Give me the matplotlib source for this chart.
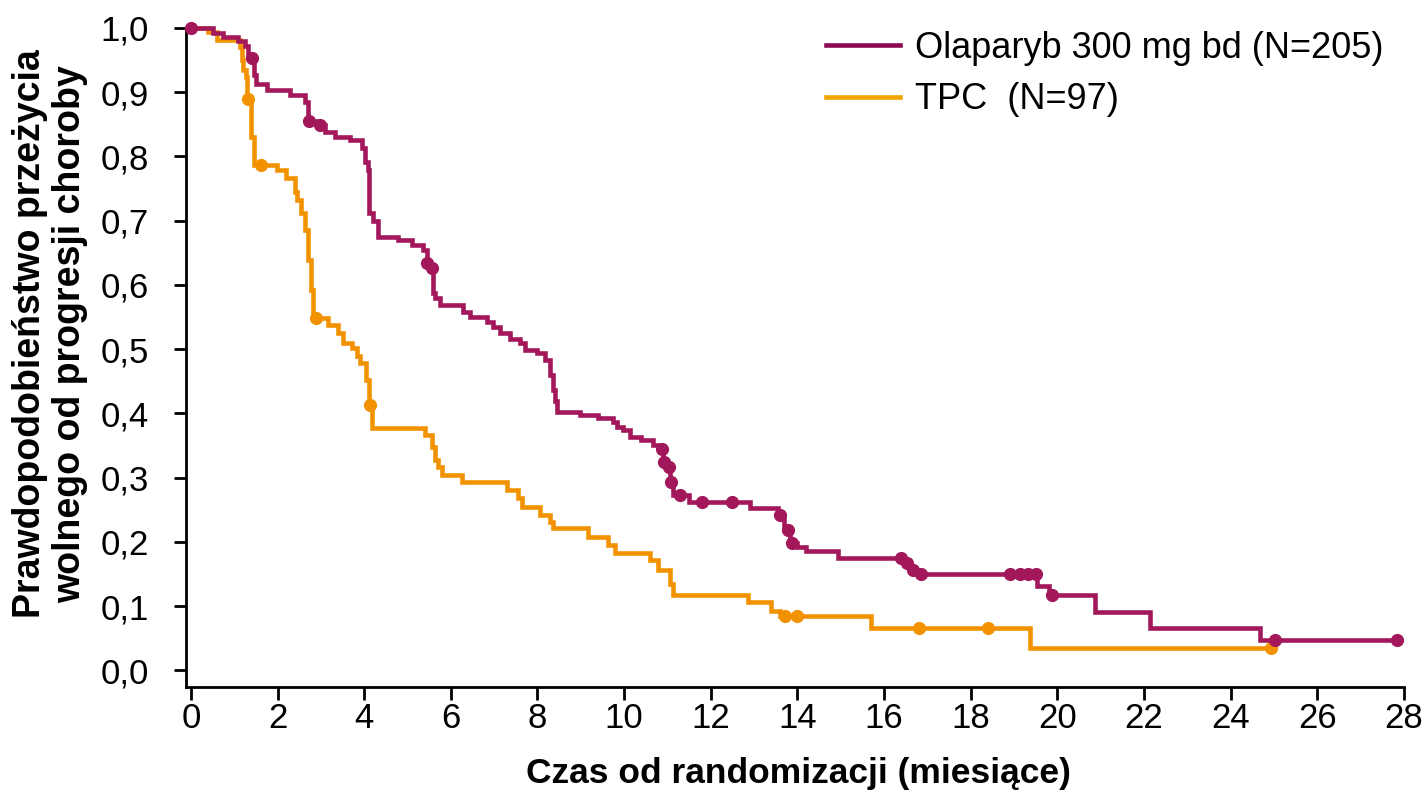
import numpy as np
import matplotlib
matplotlib.use("Agg")
import matplotlib.pyplot as plt
from matplotlib.lines import Line2D

plt.rcParams['font.family'] = ['Liberation Sans', 'DejaVu Sans']

# ---- data ----
ola_label = "Olaparyb 300 mg bd (N=205)"
tpc_label = "TPC  (N=97)"

ola_t = [0, 0.51, 0.74, 1.09, 1.25, 1.32, 1.45, 1.50, 1.75, 2.28,
         2.63, 2.70, 2.95, 3.09, 3.32, 3.67, 3.95, 4.02, 4.09, 4.12,
         4.20, 4.32, 4.78, 5.10, 5.36, 5.44, 5.52, 5.58, 5.63, 5.75,
         6.28, 6.44, 6.83, 6.97, 7.13, 7.36, 7.59, 7.71, 8.00, 8.17,
         8.28, 8.35, 8.40, 8.45, 8.98, 9.39, 9.74, 9.83, 9.97, 10.13,
         10.40, 10.66, 10.85, 10.89, 10.98, 11.05, 11.12, 11.50, 12.90, 13.55,
         13.70, 13.82, 14.00, 14.20, 14.93, 16.45, 16.60, 16.78, 19.52, 19.80,
         20.86, 22.13, 24.67, 27.83]
ola_s = [1.000, 0.992, 0.986, 0.979, 0.972, 0.953, 0.927, 0.913, 0.903, 0.896,
         0.885, 0.855, 0.849, 0.838, 0.830, 0.826, 0.813, 0.791, 0.779, 0.712,
         0.700, 0.675, 0.670, 0.662, 0.654, 0.634, 0.626, 0.588, 0.580, 0.569,
         0.558, 0.550, 0.542, 0.534, 0.525, 0.516, 0.509, 0.498, 0.494, 0.483,
         0.460, 0.436, 0.420, 0.402, 0.397, 0.393, 0.386, 0.379, 0.374, 0.363,
         0.358, 0.350, 0.344, 0.324, 0.316, 0.293, 0.273, 0.262, 0.252, 0.241,
         0.219, 0.198, 0.192, 0.186, 0.175, 0.167, 0.156, 0.150, 0.131, 0.117,
         0.090, 0.066, 0.047, 0.047]
ola_cens = [0.0, 1.41, 2.72, 2.98, 5.46, 5.56, 10.87, 10.92, 11.03, 11.07,
            11.28, 11.80, 12.50, 13.60, 13.78, 13.87, 16.38, 16.52, 16.67, 16.85,
            18.90, 19.13, 19.32, 19.50, 19.87, 25.02, 27.83]

tpc_t = [0, 0.39, 0.60, 1.13, 1.17, 1.20, 1.28, 1.30, 1.38, 1.45,
         1.98, 2.20, 2.40, 2.46, 2.55, 2.63, 2.70, 2.78, 2.82, 3.17,
         3.40, 3.52, 3.72, 3.83, 3.90, 4.05, 4.11, 4.18, 5.40, 5.56,
         5.63, 5.70, 5.79, 6.25, 7.29, 7.55, 7.64, 8.05, 8.28, 8.35,
         9.16, 9.62, 9.78, 10.60, 10.78, 11.05, 11.12, 12.85, 13.40, 13.60,
         15.70, 19.36, 24.92]
tpc_s = [1.000, 0.994, 0.981, 0.970, 0.950, 0.935, 0.924, 0.889, 0.830, 0.787,
         0.779, 0.766, 0.745, 0.732, 0.712, 0.685, 0.639, 0.592, 0.548, 0.537,
         0.525, 0.509, 0.502, 0.490, 0.478, 0.452, 0.413, 0.377, 0.366, 0.347,
         0.327, 0.316, 0.304, 0.293, 0.280, 0.268, 0.254, 0.241, 0.231, 0.221,
         0.207, 0.195, 0.182, 0.171, 0.156, 0.135, 0.117, 0.106, 0.093, 0.084,
         0.066, 0.034, 0.034]
tpc_cens = [1.32, 1.62, 2.88, 4.14, 13.71, 13.98, 16.80, 18.40, 24.92]

x_ticks = list(range(0, 29, 2))
y_ticks = [0.0, 0.1, 0.2, 0.3, 0.4, 0.5, 0.6, 0.7, 0.8, 0.9, 1.0]
y_ticklabels = ["0,0", "0,1", "0,2", "0,3", "0,4", "0,5", "0,6", "0,7", "0,8", "0,9", "1,0"]

x_label = "Czas od randomizacji (miesiące)"
y_label = "Prawdopodobieństwo przeżycia\nwolnego od progresji choroby"

# ---- style ----
C_OLA = "#A2185B"
C_TPC = "#F39200"
C_OLA_LEG = "#8C0A53"
C_TPC_LEG = "#F0A500"


def step_value(t_arr, s_arr, tq):
    t_arr = np.asarray(t_arr)
    s_arr = np.asarray(s_arr)
    idx = np.searchsorted(t_arr, tq, side="right") - 1
    idx = np.clip(idx, 0, len(s_arr) - 1)
    return s_arr[idx]


W, H = 1428, 795
fig = plt.figure(figsize=(W / 100, H / 100), dpi=100)

left_px, right_px = 185.7, 1404.0
bottom_px, top_px = 687.0, 8.7
ax = fig.add_axes([left_px / W, 1 - bottom_px / H,
                   (right_px - left_px) / W, (bottom_px - top_px) / H])

line_kw = dict(lw=3.3, solid_joinstyle="miter", solid_capstyle="butt")
ax.step(tpc_t, tpc_s, where="post", color=C_TPC, zorder=3, **line_kw)
ax.plot(tpc_cens, step_value(tpc_t, tpc_s, tpc_cens), "o", color=C_TPC,
        ms=9.5, mew=0, zorder=4, clip_on=False)
ax.step(ola_t, ola_s, where="post", color=C_OLA, zorder=5, **line_kw)
ax.plot(ola_cens, step_value(ola_t, ola_s, ola_cens), "o", color=C_OLA,
        ms=9.5, mew=0, zorder=6, clip_on=False)

ax.set_xlim(-0.12, 28.0)
ax.set_ylim(-0.026, 1.03)

for s in ["top", "right"]:
    ax.spines[s].set_visible(False)
for s in ["left", "bottom"]:
    ax.spines[s].set_linewidth(2.0)
ax.spines["left"].set_bounds(-0.026, 1.0)

ax.set_xticks(x_ticks)
ax.set_xticklabels([str(v) for v in x_ticks])
ax.set_yticks(y_ticks)
ax.set_yticklabels(y_ticklabels)
ax.tick_params(axis="x", direction="out", length=9, width=2.0, labelsize=25, pad=2)
ax.tick_params(axis="y", direction="out", length=8.5, width=2.0, labelsize=25, pad=18)

fig.text(798 / W, 1 - 773 / H, x_label, ha="center", va="center",
         fontsize=25.5, fontweight="bold")
fig.text(50 / W, 1 - 334 / H, y_label, ha="center", va="center", rotation=90,
         fontsize=27, fontweight="bold", multialignment="center", linespacing=1.15)

handles = [Line2D([], [], color=C_OLA_LEG, lw=3.3),
           Line2D([], [], color=C_TPC_LEG, lw=3.3)]
fig.legend(handles, [ola_label, tpc_label], loc="center left",
           bbox_to_anchor=(826 / W, 1 - 74 / H), frameon=False, fontsize=26,
           handlelength=2.05, handletextpad=0.42, labelspacing=0.47,
           borderpad=0, borderaxespad=0)

fig.savefig("out.png", dpi=100)
